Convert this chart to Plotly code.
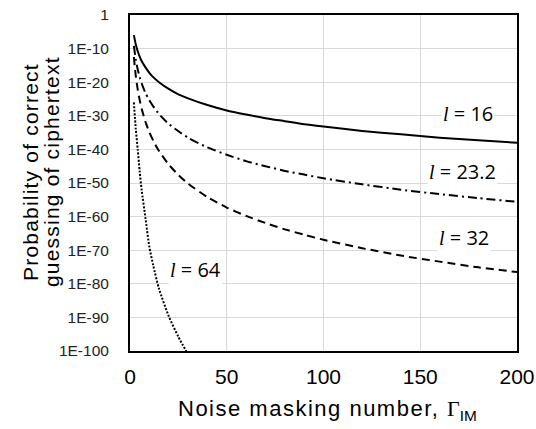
import plotly.graph_objects as go

# Noise masking number (x) sample points
gamma = [2, 3, 4, 5, 6, 8, 10, 12, 15, 20, 25, 30, 40, 50, 60, 70, 80, 90, 100, 120, 140, 160, 180, 200]

# log10 of probability of correct guessing
log_p_l16 = [-6.0, -8.8, -10.8, -12.4, -13.7, -15.6, -17.2, -18.5, -20.0, -22.0, -23.6, -24.8,
             -26.8, -28.4, -29.6, -30.7, -31.6, -32.5, -33.2, -34.5, -35.5, -36.5, -37.3, -38.0]
log_p_l23 = [-9.2, -13.3, -16.2, -18.4, -20.3, -23.2, -25.4, -27.2, -29.5, -32.4, -34.6, -36.5,
             -39.4, -41.6, -43.5, -45.0, -46.4, -47.5, -48.6, -50.4, -52.0, -53.3, -54.5, -55.6]
log_p_l32 = [-12.5, -18.2, -22.2, -25.3, -27.8, -31.8, -34.9, -37.4, -40.5, -44.5, -47.6, -50.2,
             -54.2, -57.3, -59.8, -61.9, -63.8, -65.4, -66.9, -69.4, -71.6, -73.4, -75.1, -76.5]
gamma_l64 = [2, 3, 4, 5, 6, 8, 10, 12, 15, 20, 25, 30]
log_p_l64 = [-26.0, -34.0, -40.0, -46.5, -52.0, -60.5, -69.0, -74.5, -81.5, -89.6, -95.8, -101.0]

y_tick_exps = [0, -10, -20, -30, -40, -50, -60, -70, -80, -90, -100]
y_tick_text = ["1", "1E-10", "1E-20", "1E-30", "1E-40", "1E-50", "1E-60", "1E-70", "1E-80", "1E-90", "1E-100"]
x_tick_vals = [0, 50, 100, 150, 200]

series = [
    ("16", gamma, log_p_l16, "solid"),
    ("23.2", gamma, log_p_l23, "9px,4px,2px,4px"),
    ("32", gamma, log_p_l32, "8px,5px"),
    ("64", gamma_l64, log_p_l64, "2px,1.6px"),
]

label_pos = {"16": (174.7, -29.2), "23.2": (171.6, -46.7), "32": (172.6, -66.1), "64": (33.6, -75.6)}

fig = go.Figure()
for name, xs, lp, dash in series:
    fig.add_trace(go.Scatter(
        x=xs, y=[10 ** v for v in lp], mode="lines", name="l = " + name,
        line=dict(color="black", width=2, dash=dash, shape="spline", smoothing=0.6),
        showlegend=False,
    ))

annotations = []
for name, _, _, _ in series:
    ax, ay = label_pos[name]
    annotations.append(dict(
        x=ax, y=ay, xref="x", yref="y", showarrow=False,
        text="<span style='font-family:Liberation Serif'><i>l</i></span> = " + name,
        font=dict(family="Open Sans", size=20, color="black"),
        bgcolor="white", xanchor="center", yanchor="middle",
    ))

# axis titles
annotations.append(dict(
    x=-0.2584, y=0.5327, xref="paper", yref="paper", showarrow=False, textangle=-90,
    text="<span style='letter-spacing:1.2px'>Probability of correct</span>",
    font=dict(family="Liberation Sans", size=21, color="black"),
    xanchor="center", yanchor="middle"))
annotations.append(dict(
    x=-0.2041, y=0.5327, xref="paper", yref="paper", showarrow=False, textangle=-90,
    text="<span style='letter-spacing:1.2px'>guessing of ciphertext</span>",
    font=dict(family="Liberation Sans", size=21, color="black"),
    xanchor="center", yanchor="middle"))
annotations.append(dict(
    x=0.5103, y=-0.1756, xref="paper", yref="paper", showarrow=False,
    text="<span style='letter-spacing:1.5px'>Noise masking number, </span>"
         "<span style='font-family:Liberation Serif'>Γ</span><sub>IM</sub>",
    font=dict(family="Liberation Sans", size=22, color="black"),
    xanchor="center", yanchor="middle"))

fig.update_layout(
    width=536, height=429,
    margin=dict(l=130, r=19, t=15, b=78, autoexpand=False),
    paper_bgcolor="white", plot_bgcolor="white",
    annotations=annotations,
    xaxis=dict(
        range=[0, 200], tickvals=x_tick_vals, showgrid=True, gridcolor="#d9d9d9", gridwidth=1,
        showline=True, linecolor="black", linewidth=2, mirror=True, zeroline=False,
        ticks="", ticklabelstandoff=6, automargin=False, ticklabeloverflow="allow",
        tickfont=dict(family="Liberation Sans", size=21, color="black"),
    ),
    yaxis=dict(
        type="log", range=[-100, 0],
        tickvals=[10.0 ** e for e in y_tick_exps], ticktext=y_tick_text,
        showgrid=True, gridcolor="#d9d9d9", gridwidth=1,
        showline=True, linecolor="black", linewidth=2, mirror=True, zeroline=False,
        ticks="", ticklabelstandoff=16, automargin=False, ticklabeloverflow="allow",
        tickfont=dict(family="Liberation Sans", size=15.5, color="#222222"),
    ),
)

fig.write_html("out.html", config={"displayModeBar": False},
               post_script="document.body.style.margin='0';")
